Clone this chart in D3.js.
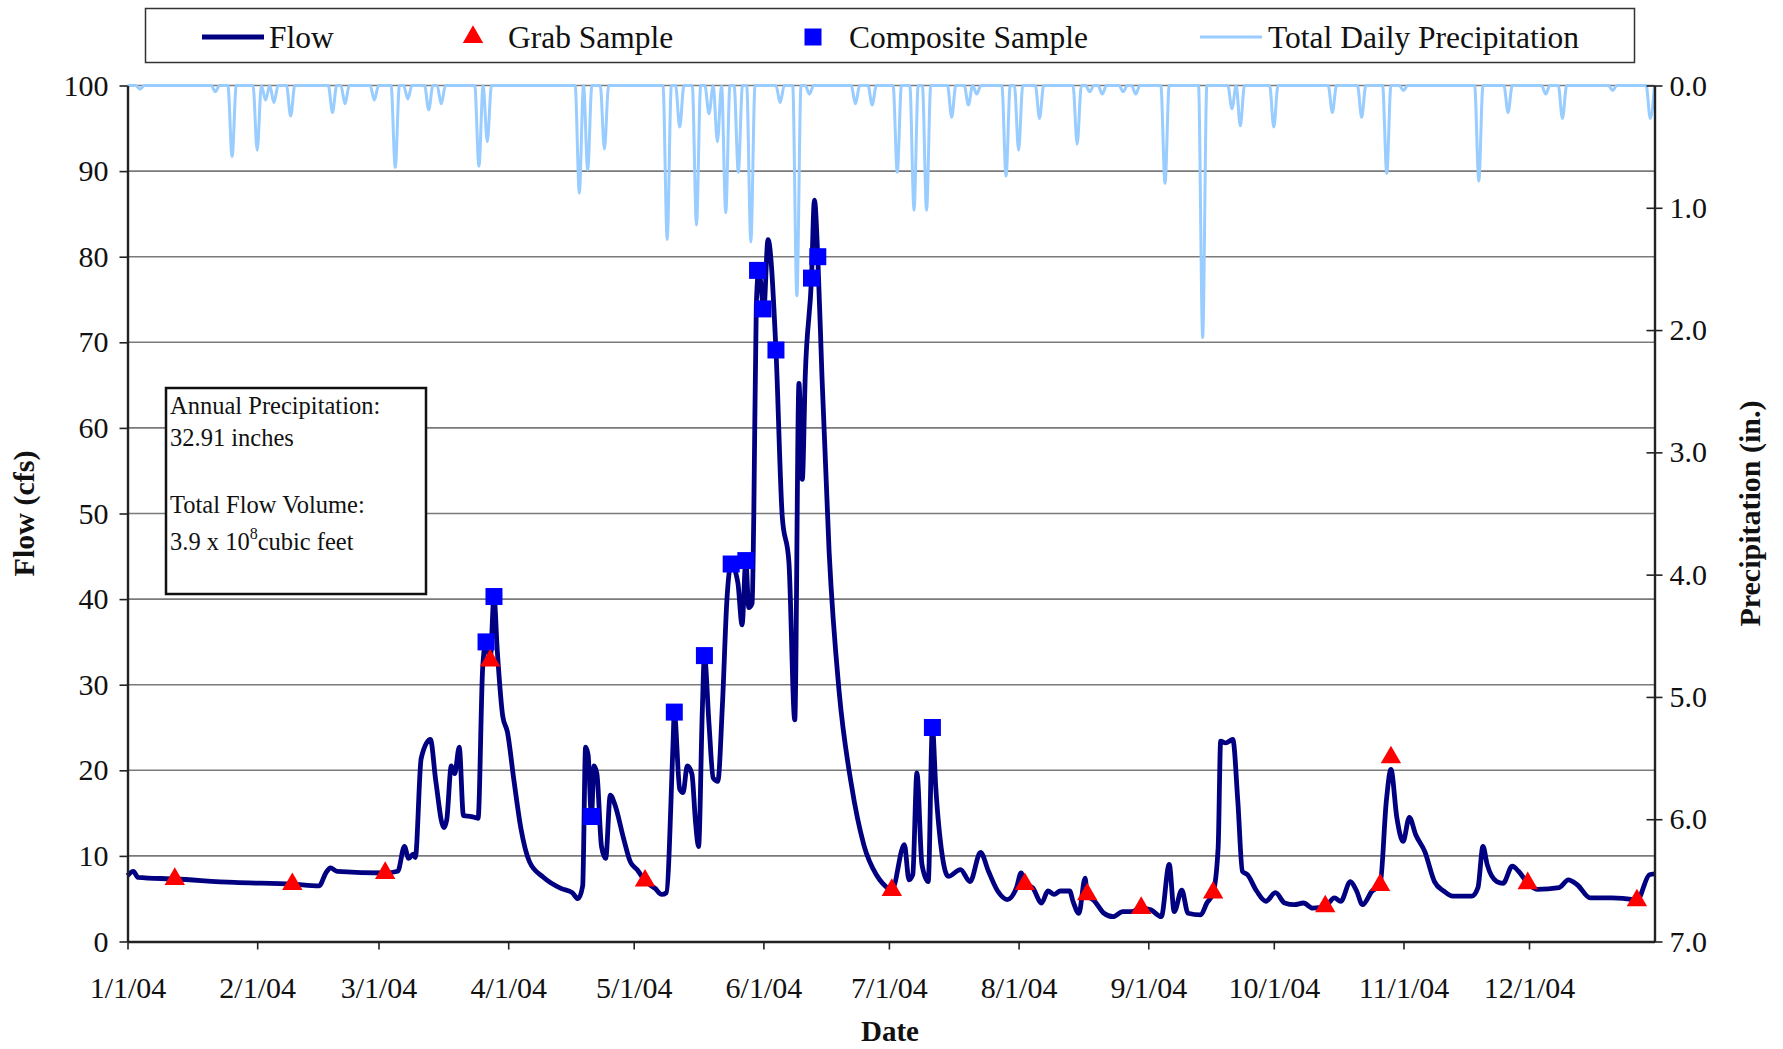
<!DOCTYPE html>
<html><head><meta charset="utf-8">
<script src="https://cdn.jsdelivr.net/npm/d3@7"></script>
<style>
body{margin:0;background:#fff;}
svg{display:block;font-family:"Liberation Serif","Times New Roman",serif;}
</style>
</head><body>
<svg id="c" width="1783" height="1049"></svg>
<script>
// ---- data (day offsets from 1/1/2004) ----
const flowDay = [0,1.4,2.5,11.3,25.5,39.4,45.8,47.4,48.5,50.1,61.6,64.6,66.2,67.2,68.3,68.8,70.2,72.4,73.7,75.6,76.3,77.4,78.2,79.3,80.3,82.2,83.8,84.9,85.7,86.7,87.6,88.4,89.7,90.8,92.4,94,96.1,99.4,103.6,106.3,107.7,108.8,109.5,110.1,110.9,111.5,112.2,113.3,114.3,115.4,116.5,118.6,120.2,121.8,123.7,126.1,127.7,128.8,130.4,130.7,132,132.8,133.8,134.9,135.8,136.5,137.4,137.9,139,140,141.1,142.2,143.3,144.3,145.9,146.9,147.8,148.5,149.3,149.7,150.3,150.9,152.1,153.1,155,156.5,158.1,159.5,160.5,161.3,162,163.5,164.2,165,166,167.7,170.1,173,176,179,180.5,182.7,185.7,186.8,187.7,188.7,189.9,191.4,192.4,193.2,194.7,196.2,199.1,201.4,203.9,205.8,208,210.3,212.5,213.6,214.5,216.3,218.5,220,221.5,223,225.2,226,227.4,228.9,229.4,231.2,233.4,235.6,237.9,240.1,242.3,244.6,247.1,249,250.2,252,253.5,256.5,258,259.5,260.7,261.3,262.5,264.2,265.4,266.5,267.7,269.9,272.1,274.4,276.6,278.9,281.1,283.3,286.3,288.5,290,292.3,293.8,295.2,297.5,299.4,300.9,302,303.4,304.9,306.4,307.9,310.1,312.4,314.6,316.8,321.3,322.8,324,325,327.3,328.8,331,332.5,334.7,337,342.2,344.4,346.6,349.6,354.8,360,360.8,363.8,365];
const flowCfs = [7.7,8.2,7.5,7.3,6.9,6.7,6.5,8.0,8.6,8.2,8.0,8.2,11.1,9.7,10.2,9.8,21.4,23.6,18.7,13.3,14.2,20.5,19.6,22.7,14.7,14.6,14.4,32,35,33,40.3,33.9,26.3,24.5,18.7,13.3,9.3,7.5,6.2,5.7,5.0,6.5,22.7,21.8,14.6,20.5,19.6,11.1,9.7,17.1,16,12,9.3,8.4,7.1,6.2,5.5,5.7,23.1,26.8,17.8,17.4,20.5,19.6,13.8,11.1,27,33.4,25.4,19.1,18.7,27.6,40.1,44.1,41.9,37,44.5,39,39.5,49.7,74.3,78.4,73.9,82,69.1,49.7,44.3,25.9,65.2,54,66,77.5,86.6,80,66,45.6,29.2,18.4,11.3,7.8,6.8,6.0,11.3,7.2,7.8,19.7,9,7,25,18,10.2,7.6,8.4,7,10.4,8.2,5.9,4.9,6.3,8,6.7,6.3,4.5,5.9,5.5,5.9,5.9,4.7,3.3,7.4,5.5,4.7,3.3,2.9,3.5,3.5,3.9,3.7,2.9,9,3.5,6,3.3,3.1,4.5,5.7,11,23.4,23.2,23.6,16.4,8.2,7.8,5.9,4.7,5.7,4.5,4.3,4.5,3.9,4.1,5.1,4.7,7,5.9,4.3,5.9,6.6,16.4,20.1,14.5,11.7,14.5,12.5,10.5,7,5.9,5.3,5.3,6.3,11.1,9,7,6.8,8.8,8.2,6.8,6.1,6.3,7.2,6.6,5.1,5.1,4.9,4.8,7.8,7.9];

const grabDay = [11.3,39.4,61.6,86.7,123.7,182.7,214.5,229.4,242.3,259.5,286.3,299.4,302,334.7,360.8];
const grabCfs = [7.3,6.7,8.0,32.8,7.1,6.0,6.7,5.5,3.9,5.7,4.1,6.6,21.5,6.8,4.8];

const compDay = [85.7,87.6,110.9,130.7,137.9,144.3,147.8,150.6,151.9,155,163.5,165,192.4];
const compCfs = [35,40.3,14.6,26.8,33.4,44.1,44.5,78.4,73.9,69.1,77.5,80,25];

const precipDay = [3,21,25,31,33,35,39,49,52,59,64,67,72,75,84,86,108,110,114,129,132,136,139,141,143,146,149,156,160,163,174,178,184,188,191,197,201,203,210,213,218,227,230,233,238,241,248,257,264,266,274,288,295,301,305,323,330,339,343,355,364];
const precipIn = [0.03,0.05,0.58,0.53,0.12,0.14,0.25,0.22,0.15,0.12,0.67,0.11,0.2,0.15,0.66,0.46,0.88,0.69,0.52,1.26,0.34,1.14,0.23,0.46,1.04,0.71,1.28,0.14,1.72,0.07,0.15,0.16,0.71,1.02,1.02,0.26,0.16,0.07,0.74,0.53,0.27,0.48,0.05,0.07,0.05,0.07,0.8,2.06,0.19,0.33,0.34,0.22,0.26,0.72,0.04,0.78,0.22,0.07,0.27,0.04,0.27];

const flowTicks = [0,10,20,30,40,50,60,70,80,90,100];
const precipTicks = [0,1,2,3,4,5,6,7];
const monthLabels = ["1/1/04","2/1/04","3/1/04","4/1/04","5/1/04","6/1/04","7/1/04","8/1/04","9/1/04","10/1/04","11/1/04","12/1/04"];
const legendLabels = ["Flow","Grab Sample","Composite Sample","Total Daily Precipitation"];
const noteLines = ["Annual Precipitation:","32.91 inches","Total Flow Volume:"];

// ---- chart ----
const svg = d3.select("#c");
const m = {l:127.5, r:1654.5, t:85.5, b:941.5};
const t0 = Date.UTC(2004,0,1);
const toDate = d => new Date(t0 + d*864e5);
const x = d3.scaleUtc().domain([toDate(0), toDate(365)]).range([m.l, m.r]);
const y = d3.scaleLinear().domain([0,100]).range([m.b, m.t]);
const yP = d3.scaleLinear().domain([0,7]).range([m.t, m.b]);

const NAVY="#000080", RED="#FF0000", BLUE="#0000FF", LIGHT="#99CCFF", GRID="#7a7a7a";

// gridlines
svg.append("g").selectAll("line").data(flowTicks.filter(d=>d>0)).join("line")
  .attr("x1",m.l).attr("x2",m.r).attr("y1",d=>y(d)).attr("y2",d=>y(d))
  .attr("stroke",GRID).attr("stroke-width",1.6);

// precipitation daily series (0 on days with no recorded rain)
const pMap = new Map(precipDay.map((d,i)=>[d,precipIn[i]]));
const precip = d3.range(0,366).map(d=>({d, v: pMap.has(d)?pMap.get(d):0}));
svg.append("path").datum(precip)
  .attr("fill","none").attr("stroke",LIGHT).attr("stroke-width",3).attr("stroke-linejoin","round")
  .attr("d", d3.line().curve(d3.curveMonotoneX).x(p=>x(toDate(p.d))).y(p=>yP(p.v)));

// flow
const flow = flowDay.map((d,i)=>({d, v:flowCfs[i]}));
svg.append("path").datum(flow)
  .attr("fill","none").attr("stroke",NAVY).attr("stroke-width",4.8).attr("stroke-linejoin","round")
  .attr("d", d3.line().curve(d3.curveMonotoneX).x(p=>x(toDate(p.d))).y(p=>y(p.v)));

// composite samples
const sq = d3.symbol().type(d3.symbolSquare).size(17*17);
svg.append("g").selectAll("path").data(compDay.map((d,i)=>({d,v:compCfs[i]}))).join("path")
  .attr("d",sq).attr("fill",BLUE)
  .attr("transform",p=>`translate(${x(toDate(p.d))},${y(p.v)})`);

// grab samples
const tri = d3.symbol().type(d3.symbolTriangle).size(180);
svg.append("g").selectAll("path").data(grabDay.map((d,i)=>({d,v:grabCfs[i]}))).join("path")
  .attr("d",tri).attr("fill",RED)
  .attr("transform",p=>`translate(${x(toDate(p.d))},${y(p.v)})`);

// axes
const fs = 30;
const gL = svg.append("g").attr("transform",`translate(${m.l},0)`)
  .call(d3.axisLeft(y).tickValues(flowTicks).tickSize(8).tickSizeOuter(0).tickPadding(11));
const gR = svg.append("g").attr("transform",`translate(${m.r},0)`)
  .call(d3.axisRight(yP).tickValues(precipTicks).tickFormat(d3.format(".1f")).tickSize(8).tickSizeOuter(0).tickPadding(7));
gR.selectAll(".tick line").attr("x1",-8);
const months = d3.utcMonth.range(toDate(0), toDate(340));
const gB = svg.append("g").attr("transform",`translate(0,${m.b})`)
  .call(d3.axisBottom(x).tickValues(months).tickFormat((d,i)=>monthLabels[i]).tickSize(8).tickSizeOuter(0));
gB.selectAll(".tick text").attr("y",56).attr("dy",0);
[gL,gR,gB].forEach(g=>{
  g.select(".domain").attr("stroke","#222").attr("stroke-width",2.4);
  g.selectAll(".tick line").attr("stroke","#222").attr("stroke-width",1.6);
  g.selectAll(".tick text").attr("font-size",fs).attr("font-family","Liberation Serif").attr("fill","#111");
});

// axis titles
svg.append("text").attr("transform",`translate(34,${(m.t+m.b)/2}) rotate(-90)`)
  .attr("text-anchor","middle").attr("font-weight","bold").attr("font-size",30).attr("fill","#111").text("Flow (cfs)");
svg.append("text").attr("transform",`translate(1760,${(m.t+m.b)/2}) rotate(-90)`)
  .attr("text-anchor","middle").attr("font-weight","bold").attr("font-size",30).attr("fill","#111").text("Precipitation (in.)");
svg.append("text").attr("x",890).attr("y",1041).attr("text-anchor","middle")
  .attr("font-weight","bold").attr("font-size",29).attr("fill","#111").text("Date");

// legend
const lg = svg.append("g");
lg.append("rect").attr("x",145.5).attr("y",8.5).attr("width",1489).attr("height",54)
  .attr("fill","#fff").attr("stroke","#333").attr("stroke-width",1.5);
const ly = 37;
lg.append("line").attr("x1",202).attr("x2",264).attr("y1",ly).attr("y2",ly).attr("stroke",NAVY).attr("stroke-width",4.8);
lg.append("path").attr("d",tri).attr("fill",RED).attr("transform",`translate(473,${ly})`);
lg.append("path").attr("d",sq).attr("fill",BLUE).attr("transform",`translate(813,${ly})`);
lg.append("line").attr("x1",1200).attr("x2",1262).attr("y1",ly).attr("y2",ly).attr("stroke",LIGHT).attr("stroke-width",3);
const lx = [269,508,849,1268];
lg.selectAll("text.l").data(legendLabels).join("text").attr("class","l")
  .attr("x",(d,i)=>lx[i]).attr("y",ly+11).attr("font-size",31.5).attr("fill","#111").text(d=>d);

// annotation box
const nb = svg.append("g");
nb.append("rect").attr("x",166).attr("y",388).attr("width",260).attr("height",206)
  .attr("fill","#fff").attr("stroke","#111").attr("stroke-width",2.5);
const ny = [414,446,513];
nb.selectAll("text.n").data(noteLines).join("text").attr("class","n")
  .attr("x",170).attr("y",(d,i)=>ny[i]).attr("font-size",24.5).attr("fill","#111").text(d=>d);
const t4 = nb.append("text").attr("x",170).attr("y",550).attr("font-size",24.5).attr("fill","#111");
t4.append("tspan").text("3.9 x 10");
t4.append("tspan").attr("dy",-11).attr("font-size",16).text("8");
t4.append("tspan").attr("dy",11).text("cubic feet");
</script>
</body></html>
